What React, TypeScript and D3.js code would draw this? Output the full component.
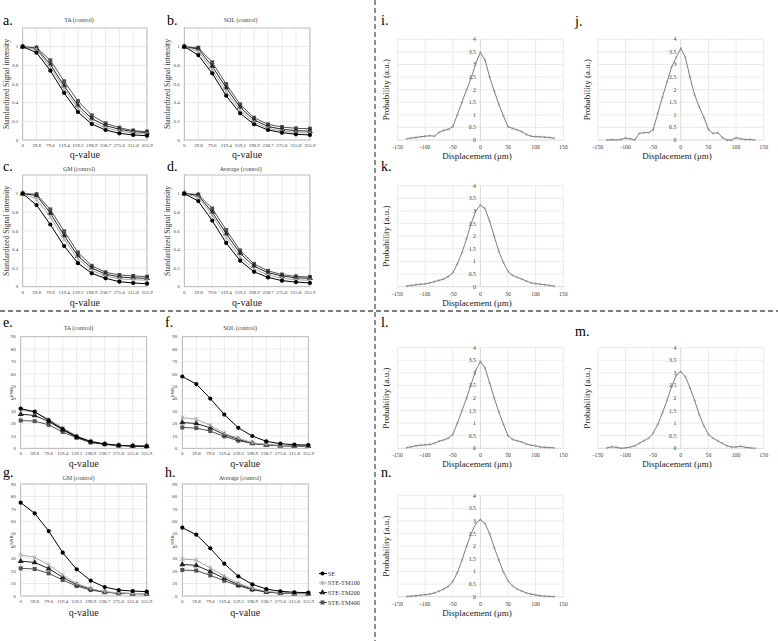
import React from 'react';
import * as d3 from 'd3';

const FONT = '"Liberation Serif", "Times New Roman", serif';

const qValues = ["0", "39.8", "79.6", "119.4", "159.2", "198.9", "238.7", "275.6", "315.8", "355.9"];
const seriesNames = ["SE", "STE-TM100", "STE-TM200", "STE-TM400"];

// Standardized signal intensity
const taSE = [1, 0.936, 0.743, 0.504, 0.30, 0.171, 0.107, 0.071, 0.054, 0.046];
const taTM100 = [1, 0.97, 0.78, 0.55, 0.34, 0.20, 0.13, 0.095, 0.075, 0.065];
const taTM200 = [1, 0.98, 0.81, 0.58, 0.37, 0.23, 0.155, 0.115, 0.09, 0.08];
const taTM400 = [1, 0.99, 0.854, 0.629, 0.418, 0.264, 0.179, 0.132, 0.10, 0.089];

const solSE = [1, 0.91, 0.714, 0.475, 0.286, 0.168, 0.107, 0.079, 0.061, 0.054];
const solTM100 = [1, 0.95, 0.75, 0.52, 0.32, 0.19, 0.125, 0.095, 0.08, 0.075];
const solTM200 = [1, 0.975, 0.79, 0.56, 0.35, 0.215, 0.145, 0.115, 0.10, 0.095];
const solTM400 = [1, 0.989, 0.833, 0.60, 0.382, 0.239, 0.168, 0.139, 0.125, 0.121];

const gmSE = [1, 0.877, 0.668, 0.437, 0.253, 0.144, 0.09, 0.054, 0.04, 0.032];
const gmTM100 = [1, 0.94, 0.75, 0.51, 0.30, 0.175, 0.115, 0.085, 0.075, 0.07];
const gmTM200 = [1, 0.98, 0.79, 0.55, 0.33, 0.20, 0.135, 0.105, 0.095, 0.09];
const gmTM400 = [1, 0.993, 0.83, 0.596, 0.368, 0.224, 0.155, 0.126, 0.116, 0.108];

const avgSE = [1, 0.92, 0.71, 0.47, 0.28, 0.16, 0.10, 0.065, 0.05, 0.04];
const avgTM100 = [1, 0.96, 0.77, 0.53, 0.32, 0.19, 0.125, 0.09, 0.075, 0.068];
const avgTM200 = [1, 0.98, 0.80, 0.57, 0.36, 0.22, 0.15, 0.115, 0.095, 0.09];
const avgTM400 = [1, 0.99, 0.84, 0.61, 0.39, 0.245, 0.17, 0.13, 0.11, 0.105];

// SNR
const taSnrSE = [32, 29.5, 22.5, 15.5, 9.5, 5.5, 3.5, 2.4, 1.9, 1.6];
const taSnrTM100 = [31, 29, 23.5, 16.5, 10, 5.6, 3.6, 2.5, 2, 1.7];
const taSnrTM200 = [27.5, 26.5, 21.6, 14.9, 8.9, 5.0, 3.3, 2.3, 1.9, 1.6];
const taSnrTM400 = [22.4, 21.9, 18.9, 13.2, 8.4, 4.6, 3.2, 2.2, 1.9, 1.6];

const solSnrSE = [57.9, 51.8, 40.1, 27.2, 16.5, 9.9, 5.6, 3.7, 2.9, 2.6];
const solSnrTM100 = [24.8, 23.5, 18.5, 12, 8.2, 4.5, 3, 2.3, 2, 1.8];
const solSnrTM200 = [20.8, 20, 16.5, 11, 7.3, 4, 2.5, 2, 1.7, 1.6];
const solSnrTM400 = [16.8, 16.3, 13.9, 9.6, 6.1, 4, 2.9, 2.3, 2, 1.9];

const gmSnrSE = [75, 66.4, 52.2, 34.8, 21.4, 12.3, 7.2, 4.8, 4, 3.5];
const gmSnrTM100 = [33, 31, 25, 17, 10, 6, 3.5, 2.5, 2, 2];
const gmSnrTM200 = [28, 27, 22, 15, 9, 5.5, 3.2, 2.3, 1.9, 1.8];
const gmSnrTM400 = [22.2, 21.7, 18.2, 12.9, 8, 4.8, 3, 2.2, 1.9, 1.8];

const avgSnrSE = [54.9, 49.3, 38.3, 26, 15.8, 9.4, 5.6, 3.8, 3, 2.7];
const avgSnrTM100 = [29.7, 28.9, 22.5, 16, 10.2, 6.2, 3.8, 2.7, 2.2, 2];
const avgSnrTM200 = [25.4, 24.6, 19.6, 14.2, 9.1, 5.5, 3.3, 2.4, 2, 1.8];
const avgSnrTM400 = [20.9, 20.4, 16.6, 12.3, 8.3, 5, 3.2, 2.3, 2, 1.9];

const stdTicks = [0, 0.2, 0.4, 0.6, 0.8, 1];
const snrTicks = [0, 10, 20, 30, 40, 50, 60, 70, 80, 90];

// Displacement profiles
const displacement = [-133.3, -125, -116.7, -108.3, -100, -91.7, -83.3, -75, -66.7, -58.3, -50, -41.7, -33.3, -25, -16.7, -8.3, 0, 8.3, 16.7, 25, 33.3, 41.7, 50, 58.3, 66.7, 75, 83.3, 91.7, 100, 108.3, 116.7, 125, 133.3];
const probI = [0.05, 0.08, 0.1, 0.13, 0.15, 0.17, 0.15, 0.3, 0.38, 0.42, 0.53, 1.0, 1.5, 2.0, 2.45, 3.05, 3.47, 3.18, 2.5, 1.95, 1.42, 0.95, 0.53, 0.46, 0.4, 0.33, 0.22, 0.15, 0.13, 0.13, 0.11, 0.1, 0.07];
const probJ = [0.0, 0.01, 0.0, 0.02, 0.08, 0.05, 0.0, 0.26, 0.29, 0.29, 0.4, 1.06, 1.7, 2.3, 2.9, 3.28, 3.64, 3.28, 2.49, 1.79, 1.32, 0.9, 0.42, 0.26, 0.29, 0.1, 0.0, 0.0, 0.09, 0.05, 0.02, 0.02, 0.0];
const probK = [0.03, 0.05, 0.08, 0.1, 0.11, 0.15, 0.2, 0.25, 0.3, 0.4, 0.55, 0.9, 1.35, 1.9, 2.5, 3.0, 3.23, 3.1, 2.6, 2.0, 1.4, 0.95, 0.6, 0.45, 0.37, 0.3, 0.22, 0.15, 0.12, 0.1, 0.08, 0.05, 0.02];
const probL = [0.03, 0.06, 0.1, 0.12, 0.14, 0.15, 0.2, 0.28, 0.33, 0.4, 0.55, 1.0, 1.5, 2.0, 2.55, 3.1, 3.45, 3.2, 2.6, 2.0, 1.45, 0.95, 0.5, 0.35, 0.3, 0.25, 0.17, 0.12, 0.1, 0.05, 0.04, 0.03, 0.02];
const probM = [0.02, 0.06, 0.04, 0.0, 0.02, 0.05, 0.1, 0.2, 0.3, 0.4, 0.6, 0.95, 1.4, 1.9, 2.45, 2.9, 3.05, 2.85, 2.4, 1.9, 1.35, 0.9, 0.55, 0.4, 0.3, 0.2, 0.1, 0.05, 0.05, 0.08, 0.04, 0.02, 0.0];
const probN = [0.01, 0.02, 0.04, 0.06, 0.08, 0.1, 0.15, 0.22, 0.3, 0.4, 0.6, 0.95, 1.45, 2.0, 2.5, 2.9, 3.05, 2.9, 2.5, 1.95, 1.45, 0.98, 0.62, 0.42, 0.3, 0.22, 0.15, 0.1, 0.07, 0.04, 0.02, 0.01, 0.0];
const dispTicks = [-150, -100, -50, 0, 50, 100, 150];
const probTicks = [0, 0.5, 1, 1.5, 2, 2.5, 3, 3.5, 4];

const STYLES = [
  { color: '#000000', marker: 'circle' },
  { color: '#a6a6a6', marker: 'x' },
  { color: '#262626', marker: 'triangle' },
  { color: '#525252', marker: 'square' },
];

function Marker({ type, x, y, color }: { type: string; x: number; y: number; color: string }) {
  if (type === 'circle') return <circle cx={x} cy={y} r={2.1} fill={color} />;
  if (type === 'square') return <rect x={x - 2} y={y - 2} width={4} height={4} fill={color} />;
  if (type === 'triangle') {
    const p = d3.symbol().type(d3.symbolTriangle).size(16)();
    return <path d={p || ''} transform={`translate(${x},${y})`} fill={color} />;
  }
  const s = 2.2;
  return (
    <g stroke={color} strokeWidth={0.8}>
      <line x1={x - s} y1={y - s} x2={x + s} y2={y + s} />
      <line x1={x - s} y1={y + s} x2={x + s} y2={y - s} />
      <line x1={x} y1={y - s} x2={x} y2={y + s} />
    </g>
  );
}

type LPProps = {
  L: number; R: number; T: number; B: number; yMax: number; ticks: number[];
  series: number[][]; title: string; titleX: number; titleY: number;
  letter: string; letterX: number; letterY: number;
  ylabel: string; ylabelX: number; ylabelSize: number;
  qLabelY: number; tickGap: number;
};

function LinePanel(p: LPProps) {
  const x = d3.scalePoint<string>().domain(qValues).range([p.L, p.R]).padding(0);
  const y = d3.scaleLinear().domain([0, p.yMax]).range([p.B, p.T]);
  const line = d3.line<number>().x((_, i) => x(qValues[i]) as number).y(d => y(d));
  const order = [3, 2, 1, 0];
  return (
    <g>
      <text x={p.letterX} y={p.letterY} fontSize={14} fontFamily={FONT}>{p.letter}</text>
      <text x={p.titleX} y={p.titleY} fontSize={6} fontFamily={FONT} textAnchor="middle" fill="#404040">{p.title}</text>
      {p.ticks.map(t => (
        <line key={'h' + t} x1={p.L} x2={p.R} y1={y(t)} y2={y(t)} stroke="#e3e3e3" strokeWidth={0.7} />
      ))}
      {qValues.map(q => (
        <line key={'v' + q} x1={x(q)} x2={x(q)} y1={p.T} y2={p.B} stroke="#e3e3e3" strokeWidth={0.7} />
      ))}
      <rect x={p.L} y={p.T} width={p.R - p.L} height={p.B - p.T} fill="none" stroke="#b0b0b0" strokeWidth={0.8} />
      {p.ticks.map(t => (
        <text key={'t' + t} x={p.L - p.tickGap} y={y(t) + 1.7} fontSize={5} fontFamily={FONT} textAnchor="end" fill="#404040">{String(t)}</text>
      ))}
      {qValues.map(q => (
        <text key={'q' + q} x={x(q)} y={p.B + 7} fontSize={5} fontFamily={FONT} textAnchor="middle" fill="#404040">{q}</text>
      ))}
      <text x={(p.L + p.R) / 2} y={p.qLabelY} fontSize={10} fontFamily={FONT} textAnchor="middle" fill="#222">q-value</text>
      <text transform={`translate(${p.ylabelX},${(p.T + p.B) / 2}) rotate(-90)`} fontSize={p.ylabelSize} fontFamily={FONT} textAnchor="middle" fill="#333">{p.ylabel}</text>
      {order.map(si => (
        <g key={'s' + si}>
          <path d={line(p.series[si]) || ''} fill="none" stroke={STYLES[si].color} strokeWidth={1} />
          {p.series[si].map((v, i) => (
            <Marker key={i} type={STYLES[si].marker} x={x(qValues[i]) as number} y={y(v)} color={STYLES[si].color} />
          ))}
        </g>
      ))}
    </g>
  );
}

type DPProps = {
  x0: number; x1: number; T: number; B: number; values: number[];
  letter: string; letterX: number; letterY: number; ylabX: number; xlabX: number; xlabY: number;
};

function DistPanel(p: DPProps) {
  const x = d3.scaleLinear().domain([-150, 150]).range([p.x0, p.x1]);
  const y = d3.scaleLinear().domain([0, 4]).range([p.B, p.T]);
  const pts = displacement.map((d, i) => [d, p.values[i]] as [number, number]);
  const line = d3.line<[number, number]>().x(d => x(d[0])).y(d => y(d[1]));
  return (
    <g>
      <text x={p.letterX} y={p.letterY} fontSize={14} fontFamily={FONT}>{p.letter}</text>
      {probTicks.map(t => (
        <line key={'h' + t} x1={p.x0} x2={p.x1} y1={y(t)} y2={y(t)} stroke={t === 0 ? '#c8c8c8' : '#e3e3e3'} strokeWidth={0.7} />
      ))}
      {dispTicks.map(t => (
        <line key={'v' + t} x1={x(t)} x2={x(t)} y1={p.T} y2={p.B} stroke={t === 0 ? '#c8c8c8' : '#e3e3e3'} strokeWidth={0.7} />
      ))}
      {probTicks.map(t => (
        <text key={'yt' + t} x={x(0) - 4.5} y={y(t) + 2} fontSize={5.8} fontFamily={FONT} textAnchor="end" fill="#404040">{String(t)}</text>
      ))}
      {dispTicks.map(t => (
        <text key={'xt' + t} x={x(t)} y={p.B + 9} fontSize={5.8} fontFamily={FONT} textAnchor="middle" fill="#404040">{String(t)}</text>
      ))}
      <path d={line(pts) || ''} fill="none" stroke="#6e6e6e" strokeWidth={0.9} />
      {pts.map((d, i) => (
        <circle key={i} cx={x(d[0])} cy={y(d[1])} r={0.9} fill="none" stroke="#8a8a8a" strokeWidth={0.5} />
      ))}
      <text x={p.xlabX} y={p.xlabY} fontSize={9} fontFamily={FONT} textAnchor="middle" fill="#222">Displacement (μm)</text>
      <text transform={`translate(${p.ylabX},${(p.T + p.B) / 2}) rotate(-90)`} fontSize={9} fontFamily={FONT} textAnchor="middle" fill="#222">Probability (a.u.)</text>
    </g>
  );
}

export default function App() {
  const dx = 161.6;
  const stdPanels = [
    { L: 22.7, R: 147, T: 28, B: 140, series: [taSE, taTM100, taTM200, taTM400], title: 'TA (control)', letter: 'a.', col: 0, titleY: 22, letterY: 25, qLabelY: 158 },
    { L: 22.7 + dx, R: 147 + dx + 1.3, T: 28, B: 140, series: [solSE, solTM100, solTM200, solTM400], title: 'SOL (control)', letter: 'b.', col: 1, titleY: 22, letterY: 25, qLabelY: 158 },
    { L: 22.7, R: 147, T: 175, B: 286.7, series: [gmSE, gmTM100, gmTM200, gmTM400], title: 'GM (control)', letter: 'c.', col: 0, titleY: 170.5, letterY: 171, qLabelY: 306 },
    { L: 22.7 + dx, R: 147 + dx + 1.3, T: 175, B: 286.7, series: [avgSE, avgTM100, avgTM200, avgTM400], title: 'Average (control)', letter: 'd.', col: 1, titleY: 170.5, letterY: 171, qLabelY: 306 },
  ];
  const snrPanels = [
    { L: 20.7, R: 146.7, T: 336.7, B: 448.3, series: [taSnrSE, taSnrTM100, taSnrTM200, taSnrTM400], title: 'TA (control)', letter: 'e.', col: 0, titleY: 330, letterY: 327, qLabelY: 467 },
    { L: 20.7 + dx, R: 146.7 + dx, T: 336.7, B: 448.3, series: [solSnrSE, solSnrTM100, solSnrTM200, solSnrTM400], title: 'SOL (control)', letter: 'f.', col: 1, titleY: 330, letterY: 327, qLabelY: 467 },
    { L: 20.7, R: 146.7, T: 484, B: 596, series: [gmSnrSE, gmSnrTM100, gmSnrTM200, gmSnrTM400], title: 'GM (control)', letter: 'g.', col: 0, titleY: 480, letterY: 477, qLabelY: 615.5 },
    { L: 20.7 + dx, R: 146.7 + dx, T: 484, B: 596, series: [avgSnrSE, avgSnrTM100, avgSnrTM200, avgSnrTM400], title: 'Average (control)', letter: 'h.', col: 1, titleY: 480, letterY: 477, qLabelY: 615.5 },
  ];
  const legendY = [573.5, 583, 592.5, 602.5];
  const distX = [
    { x0: 397.5, x1: 563.3, letterX: 381, ylabX: 389, xlabX: 477 },
    { x0: 597.9, x1: 763.7, letterX: 575, ylabX: 590, xlabX: 677 },
  ];
  const distPanels = [
    { c: 0, T: 39.3, B: 140, values: probI, letter: 'i.', letterY: 25, xlabY: 159 },
    { c: 1, T: 39.3, B: 140, values: probJ, letter: 'j.', letterY: 26, xlabY: 159 },
    { c: 0, T: 185.7, B: 286.7, values: probK, letter: 'k.', letterY: 171, xlabY: 306 },
    { c: 0, T: 347.7, B: 448.3, values: probL, letter: 'l.', letterY: 327, xlabY: 467 },
    { c: 1, T: 347.7, B: 448.3, values: probM, letter: 'm.', letterY: 336, xlabY: 467 },
    { c: 0, T: 495.7, B: 596.7, values: probN, letter: 'n.', letterY: 477, xlabY: 615.5 },
  ];
  return (
    <svg width={778} height={641} style={{ position: 'absolute', left: 0, top: 0, background: '#fff' }}>
      <rect x={0} y={0} width={778} height={641} fill="#fff" />
      {stdPanels.map((p, i) => (
        <LinePanel key={'std' + i} L={p.L} R={p.R} T={p.T} B={p.B} yMax={1.2} ticks={stdTicks} series={p.series}
          title={p.title} titleX={79 + p.col * dx} titleY={p.titleY} letter={p.letter} letterX={3 + p.col * 164} letterY={p.letterY}
          ylabel="Standardized Signal intensity" ylabelX={8.5 + p.col * dx} ylabelSize={7.7} qLabelY={p.qLabelY} tickGap={4.5} />
      ))}
      {snrPanels.map((p, i) => (
        <LinePanel key={'snr' + i} L={p.L} R={p.R} T={p.T} B={p.B} yMax={90} ticks={snrTicks} series={p.series}
          title={p.title} titleX={78.5 + p.col * dx} titleY={p.titleY} letter={p.letter} letterX={3 + p.col * 162} letterY={p.letterY}
          ylabel="SNR" ylabelX={12.5 + p.col * dx} ylabelSize={5} qLabelY={p.qLabelY} tickGap={5} />
      ))}
      {seriesNames.map((n, i) => (
        <g key={'lg' + i}>
          <line x1={319} x2={327} y1={legendY[i]} y2={legendY[i]} stroke={STYLES[i].color} strokeWidth={1} />
          <Marker type={STYLES[i].marker} x={322.5} y={legendY[i]} color={STYLES[i].color} />
          <text x={327.8} y={legendY[i] + 2.2} fontSize={6.3} fontFamily={FONT} fill="#333">{n}</text>
        </g>
      ))}
      {distPanels.map((p, i) => (
        <DistPanel key={'d' + i} x0={distX[p.c].x0} x1={distX[p.c].x1} T={p.T} B={p.B} values={p.values}
          letter={p.letter} letterX={distX[p.c].letterX} letterY={p.letterY} ylabX={distX[p.c].ylabX}
          xlabX={distX[p.c].xlabX} xlabY={p.xlabY} />
      ))}
      <line x1={375} x2={375} y1={0} y2={641} stroke="#555" strokeWidth={1.3} strokeDasharray="5,3" />
      <line x1={0} x2={778} y1={311} y2={311} stroke="#555" strokeWidth={1.3} strokeDasharray="5,3" />
    </svg>
  );
}
